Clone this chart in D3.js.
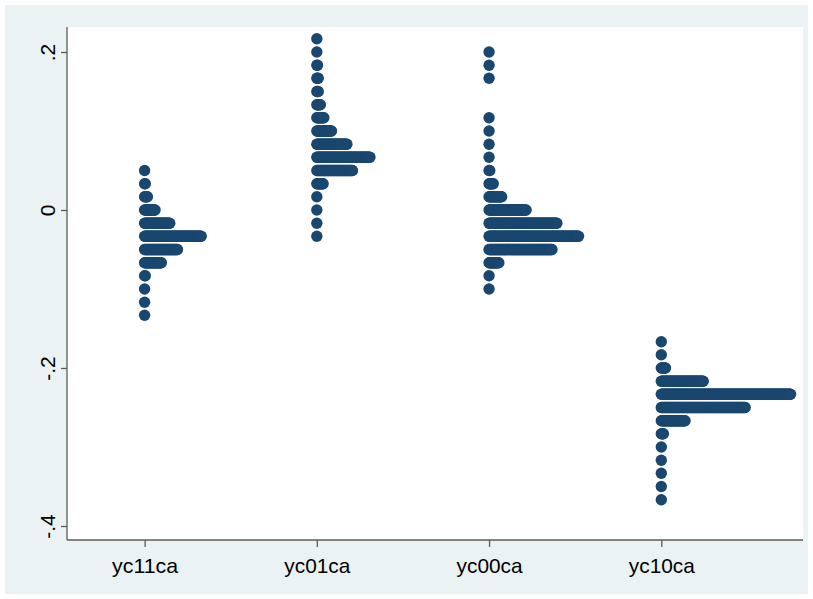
<!DOCTYPE html>
<html>
<head>
<meta charset="utf-8">
<script src="https://cdn.jsdelivr.net/npm/d3@7"></script>
<style>
  html, body { margin: 0; padding: 0; background: #ffffff; }
  svg { display: block; }
  text { font-family: "Liberation Sans", Arial, Helvetica, sans-serif; }
</style>
</head>
<body>
<svg id="chart" width="813" height="599"></svg>
<script>
// Variables shown along the x axis
const categories = ["yc11ca", "yc01ca", "yc00ca", "yc10ca"];

// Bin values (y) and number of observations in each bin, per variable
const yc11caValues = [0.0500, 0.0333, 0.0167, 0.0000, -0.0167, -0.0333, -0.0500, -0.0667, -0.0833, -0.1000, -0.1167, -0.1333];
const yc11caCounts = [1, 2, 5, 16, 37, 82, 48, 25, 2, 1, 1, 1];

const yc01caValues = [0.2167, 0.2000, 0.1833, 0.1667, 0.1500, 0.1333, 0.1167, 0.1000, 0.0833, 0.0667, 0.0500, 0.0333, 0.0167, 0.0000, -0.0167, -0.0333];
const yc01caCounts = [1, 1, 2, 3, 3, 6, 11, 22, 44, 77, 52, 10, 1, 1, 1, 1];

const yc00caValues = [0.2000, 0.1833, 0.1667, 0.1167, 0.1000, 0.0833, 0.0667, 0.0500, 0.0333, 0.0167, 0.0000, -0.0167, -0.0333, -0.0500, -0.0667, -0.0833, -0.1000];
const yc00caCounts = [1, 1, 1, 1, 1, 1, 1, 2, 7, 19, 54, 98, 129, 91, 15, 1, 1];

const yc10caValues = [-0.1667, -0.1833, -0.2000, -0.2167, -0.2333, -0.2500, -0.2667, -0.2833, -0.3000, -0.3167, -0.3333, -0.3500, -0.3667];
const yc10caCounts = [1, 1, 7, 61, 186, 121, 35, 4, 1, 1, 1, 1, 1];

// Y axis ticks and their labels
const yTickValues = [0.2, 0, -0.2, -0.4];
const yTickLabels = [".2", "0", "-.2", "-.4"];

const seriesValues = [yc11caValues, yc01caValues, yc00caValues, yc10caValues];
const seriesCounts = [yc11caCounts, yc01caCounts, yc00caCounts, yc10caCounts];

const svg = d3.select("#chart");

// Outer graph region
svg.append("rect")
  .attr("x", 5).attr("y", 5).attr("width", 803).attr("height", 589)
  .attr("fill", "#eaf2f3");

// Plot region
const plot = { left: 67, right: 803, top: 27, bottom: 540 };
svg.append("rect")
  .attr("x", plot.left).attr("y", plot.top)
  .attr("width", plot.right - plot.left).attr("height", plot.bottom - plot.top)
  .attr("fill", "#ffffff");

// Scales
const y = d3.scaleLinear().domain([0, 0.2]).range([210, 52]);
const x = d3.scalePoint().domain(categories).range([144.6, 661.3]);
const maxCount = d3.max(seriesCounts.flat());
const stack = d3.scaleLinear().domain([1, maxCount]).range([0, 129.3]);

// Dots: one marker per observation, stacked to the right of the variable's position
const dotColor = "#1a476f";
const r = 5.7;
const dotsG = svg.append("g");
categories.forEach((cat, ci) => {
  const g = dotsG.append("g").attr("class", "dots-" + cat);
  seriesValues[ci].forEach((v, bi) => {
    const n = seriesCounts[ci][bi];
    const row = d3.range(1, n + 1);
    g.selectAll(null)
      .data(row)
      .enter().append("circle")
      .attr("cx", d => x(cat) + stack(d))
      .attr("cy", y(v))
      .attr("r", r)
      .attr("fill", dotColor);
  });
});

// Y axis
const axisColor = "#5b5b5b";
const yAxis = d3.axisLeft(y)
  .tickValues(yTickValues)
  .tickFormat((d, i) => yTickLabels[i])
  .tickSize(6)
  .tickPadding(0);
const yg = svg.append("g").attr("transform", `translate(${plot.left},0)`).call(yAxis);
yg.select(".domain").attr("d", `M0,${plot.top}V${plot.bottom}`).attr("stroke", axisColor).attr("stroke-width", 1.3);
yg.selectAll(".tick line").attr("stroke", axisColor).attr("stroke-width", 1.3);
yg.selectAll(".tick text")
  .attr("fill", "#000")
  .attr("font-size", 21)
  .attr("text-anchor", "middle")
  .attr("dy", 0)
  .attr("x", 0)
  .attr("transform", "translate(-12,0) rotate(-90)");

// X axis
const xAxis = d3.axisBottom(x).tickSize(7).tickPadding(11);
const xg = svg.append("g").attr("transform", `translate(0,${plot.bottom})`).call(xAxis);
xg.select(".domain").attr("d", `M${plot.left},0H${plot.right}`).attr("stroke", axisColor).attr("stroke-width", 1.3);
xg.selectAll(".tick line").attr("stroke", axisColor).attr("stroke-width", 1.3);
xg.selectAll(".tick text")
  .attr("fill", "#000")
  .attr("font-size", 21)
  .attr("textLength", 66)
  .attr("lengthAdjust", "spacingAndGlyphs");
</script>
</body>
</html>
